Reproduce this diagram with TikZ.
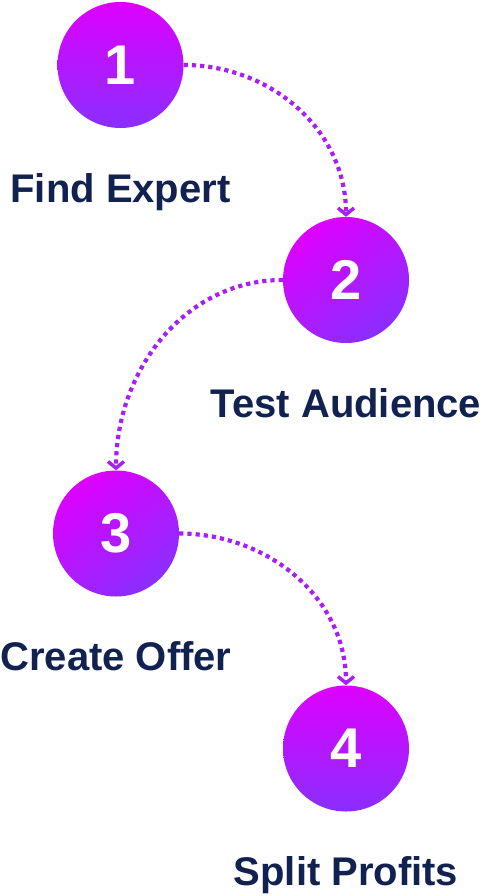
\documentclass[tikz,border=0pt]{standalone}
\usepackage{fontspec}
\setmainfont{Liberation Sans}
\usetikzlibrary{positioning, arrows.meta}
\definecolor{stepTop}{HTML}{DE00FF}
\definecolor{stepBottom}{HTML}{8A2EFF}
\definecolor{flowPurple}{HTML}{A81EF8}
\definecolor{navy}{HTML}{112250}

\begin{document}
\begin{tikzpicture}[x=1pt,y=1pt,node distance=45pt]
  \tikzset{stepdot/.style={circle,minimum size=126pt,inner sep=0pt,top color=stepTop,bottom color=stepBottom,text=white,font=\fontsize{56}{60}\selectfont\bfseries}, steplabel/.style={inner sep=0pt,text height=29pt,text depth=9pt,text=navy,font=\fontsize{40}{48}\selectfont\bfseries}, flow/.style={draw=flowPurple,line width=4.2pt,dash pattern=on 4.2pt off 4pt,-{Straight Barb[length=6.5pt,width=16pt,line width=3.5pt]}}}
  \useasboundingbox (0,0) rectangle (491,-896);
  \node[stepdot] (s1) at (120.5,-65) {1};
  \node[stepdot,shading angle=35] (s2) at (346,-280) {2};
  \node[stepdot,shading angle=35] (s3) at (116,-533.5) {3};
  \node[stepdot] (s4) at (346,-748.5) {4};
  \node[steplabel,below=of s1] (l1) {Find Expert};
  \node[steplabel,below=of s2] (l2) {Test Audience};
  \node[steplabel,below=of s3] (l3) {Create Offer};
  \node[steplabel,below=of s4] (l4) {Split Profits};
  \draw[flow] (s1.east) to[out=0,in=90] (s2.north);
  \draw[flow] (s2.west) to[out=180,in=90] (s3.north);
  \draw[flow] (s3.east) to[out=0,in=90] (s4.north);
\end{tikzpicture}
\end{document}
